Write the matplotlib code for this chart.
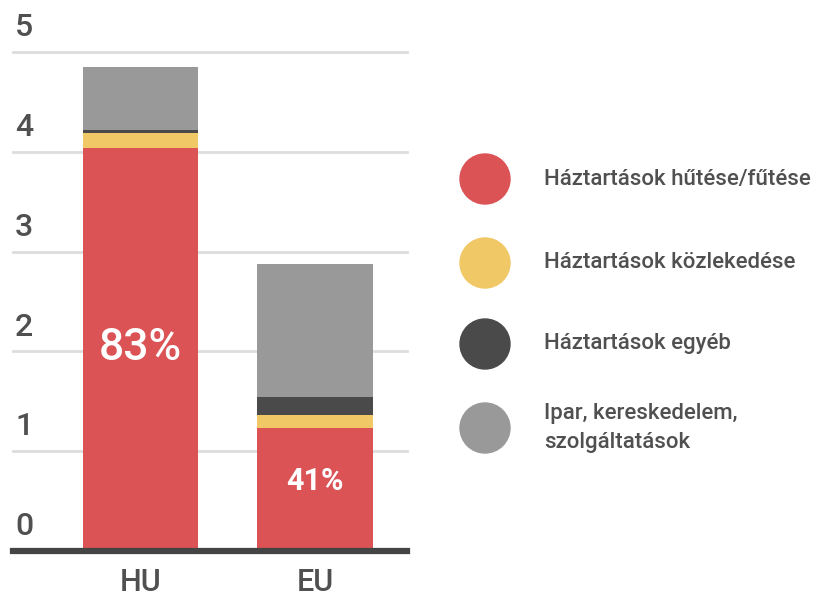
import matplotlib
matplotlib.use("Agg")
import matplotlib.pyplot as plt
from matplotlib.patches import Ellipse
import numpy as np

# Adatok (becsült értékek a képről)
orszagok = ["HU", "EU"]
kategoriak = [
    "Háztartások hűtése/fűtése",
    "Háztartások közlekedése",
    "Háztartások egyéb",
    "Ipar, kereskedelem,\nszolgáltatások",
]
futes = [4.04, 1.23]
kozlekedes = [0.15, 0.13]
egyeb = [0.03, 0.18]
ipar = [0.63, 1.34]
szazalek = ["83%", "41%"]
y_tickek = [0, 1, 2, 3, 4, 5]

SZINEK = ["#DB5355", "#F0C866", "#4A4A4A", "#999999"]
SZOVEG = "#505050"

plt.rcParams["font.family"] = ["Roboto", "DejaVu Sans"]

fig = plt.figure(figsize=(8.23, 5.98), dpi=100)
W, H = 823, 598
# tengely: x 13..407 px, y 52..551 px
ax = fig.add_axes([13 / W, 1 - 551 / H, (407 - 13) / W, (551 - 52) / H])

x = np.arange(len(orszagok))
also = np.zeros(len(orszagok))
for ertekek, szin in zip([futes, kozlekedes, egyeb, ipar], SZINEK):
    ax.bar(x, ertekek, width=0.66, bottom=also, color=szin, zorder=3)
    also += np.array(ertekek)

ax.set_xlim(-0.731, 1.527)
ax.set_ylim(0, 5)

# rácsvonalak és tengelyfeliratok
for t in y_tickek[1:]:
    ax.axhline(t, color="#DDDDDD", lw=2, zorder=1, clip_on=False)
ax.axhline(0, color="#444444", lw=4.5, zorder=4, clip_on=False)
for t in y_tickek:
    ax.annotate(str(t), xy=(0, t), xycoords=("axes fraction", "data"),
                xytext=(1.5, 7), textcoords="offset points", ha="left", va="bottom",
                fontsize=23, color=SZOVEG, fontweight="medium")

ax.set_yticks([])
ax.set_xticks(x)
ax.set_xticklabels(orszagok, fontsize=22, color=SZOVEG, fontweight="medium")
ax.tick_params(axis="x", length=0, pad=12)
for s in ax.spines.values():
    s.set_visible(False)

# százalékos feliratok
ax.text(x[0], 2.03, szazalek[0], ha="center", va="center", color="white",
        fontsize=32, fontweight="medium", zorder=5)
ax.text(x[1], 0.70, szazalek[1], ha="center", va="center", color="white",
        fontsize=22, fontweight="bold", zorder=5)

# jelmagyarázat
lg_y = [179, 263, 344, 428]
for nev, szin, yy in zip(kategoriak, SZINEK, lg_y):
    fig.patches.append(Ellipse((485 / W, 1 - yy / H), 50 / W, 50 / H,
                               color=szin, transform=fig.transFigure))
    fig.text(544 / W, 1 - yy / H, nev, ha="left", va="center", fontsize=16,
             color=SZOVEG, linespacing=1.5, fontweight="medium")

fig.savefig("out.png", dpi=100)
